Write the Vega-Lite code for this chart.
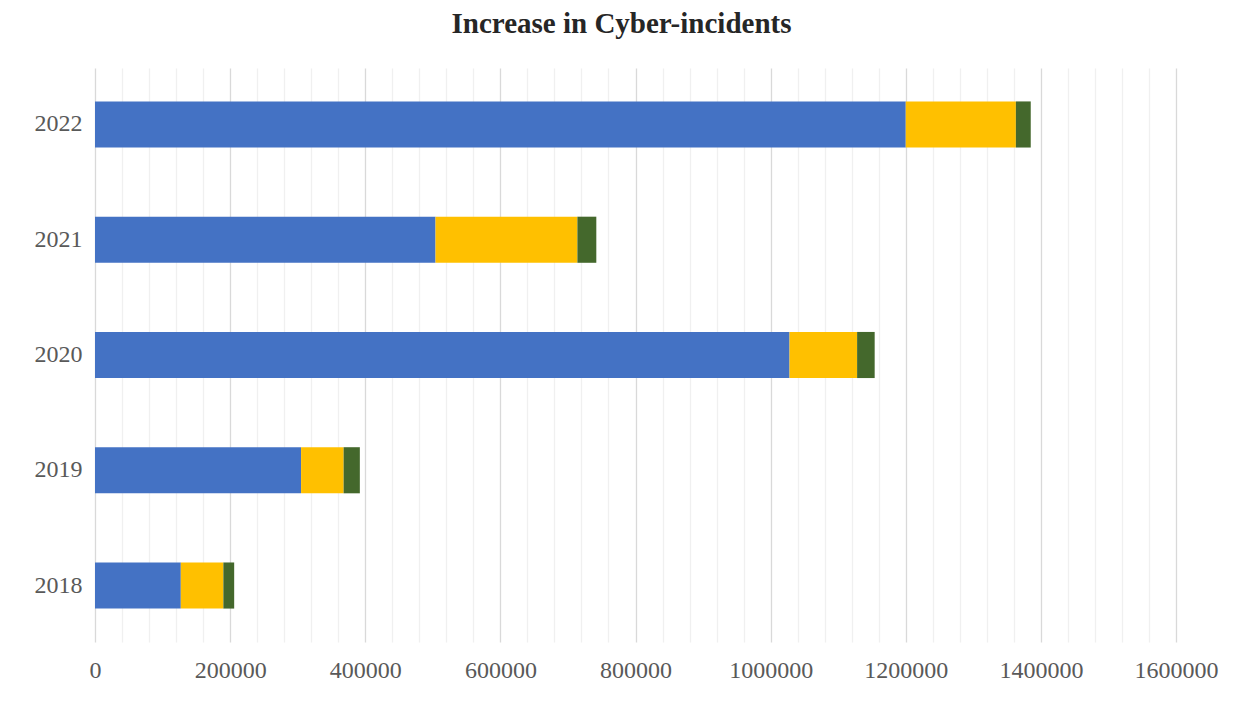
{
  "$schema": "https://vega.github.io/schema/vega-lite/v6.json",
  "width": 1234,
  "height": 702,
  "autosize": {"type": "fit", "contains": "padding"},
  "padding": {"left": 34, "top": 10, "right": 16, "bottom": 20},
  "background": "white",
  "title": {
    "text": "Increase in Cyber-incidents",
    "font": "Liberation Serif",
    "fontSize": 29,
    "fontWeight": "bold",
    "color": "#262626",
    "anchor": "middle",
    "dx": -14,
    "offset": 29
  },
  "data": {
    "values": [
      {"year": "2022", "series": "Series1", "idx": 1, "value": 1200000},
      {"year": "2022", "series": "Series2", "idx": 2, "value": 163000},
      {"year": "2022", "series": "Series3", "idx": 3, "value": 22000},
      {"year": "2021", "series": "Series1", "idx": 1, "value": 504000},
      {"year": "2021", "series": "Series2", "idx": 2, "value": 210000},
      {"year": "2021", "series": "Series3", "idx": 3, "value": 28000},
      {"year": "2020", "series": "Series1", "idx": 1, "value": 1028000},
      {"year": "2020", "series": "Series2", "idx": 2, "value": 100000},
      {"year": "2020", "series": "Series3", "idx": 3, "value": 26000},
      {"year": "2019", "series": "Series1", "idx": 1, "value": 305000},
      {"year": "2019", "series": "Series2", "idx": 2, "value": 63000},
      {"year": "2019", "series": "Series3", "idx": 3, "value": 24000},
      {"year": "2018", "series": "Series1", "idx": 1, "value": 127000},
      {"year": "2018", "series": "Series2", "idx": 2, "value": 63000},
      {"year": "2018", "series": "Series3", "idx": 3, "value": 16000}
    ]
  },
  "mark": {"type": "bar"},
  "encoding": {
    "y": {
      "field": "year",
      "type": "nominal",
      "sort": "descending",
      "scale": {"paddingInner": 0.6, "paddingOuter": 0.29},
      "axis": {
        "title": null,
        "domain": false,
        "ticks": false,
        "labelFont": "Liberation Serif",
        "labelFontSize": 24,
        "labelColor": "#595959",
        "labelPadding": 13
      }
    },
    "x": {
      "field": "value",
      "type": "quantitative",
      "stack": "zero",
      "scale": {"domain": [0, 1600000], "nice": false},
      "axis": {
        "title": null,
        "domain": false,
        "ticks": false,
        "format": "d",
        "labelFlush": false,
        "labelOverlap": false,
        "values": [0, 40000, 80000, 120000, 160000, 200000, 240000, 280000, 320000, 360000, 400000, 440000, 480000, 520000, 560000, 600000, 640000, 680000, 720000, 760000, 800000, 840000, 880000, 920000, 960000, 1000000, 1040000, 1080000, 1120000, 1160000, 1200000, 1240000, 1280000, 1320000, 1360000, 1400000, 1440000, 1480000, 1520000, 1560000, 1600000],
        "labelExpr": "datum.value % 200000 === 0 ? datum.label : ''",
        "labelFont": "Liberation Serif",
        "labelFontSize": 24,
        "labelColor": "#595959",
        "labelPadding": 16,
        "gridColor": {"condition": {"test": "datum.value % 200000 === 0", "value": "#d9d9d9"}, "value": "#f0f0f0"},
        "gridWidth": 1.3
      }
    },
    "color": {
      "field": "series",
      "type": "nominal",
      "scale": {"domain": ["Series1", "Series2", "Series3"], "range": ["#4472C4", "#FFC000", "#44682C"]},
      "legend": null
    },
    "order": {"field": "idx", "type": "quantitative"}
  },
  "config": {"view": {"stroke": null}}
}
